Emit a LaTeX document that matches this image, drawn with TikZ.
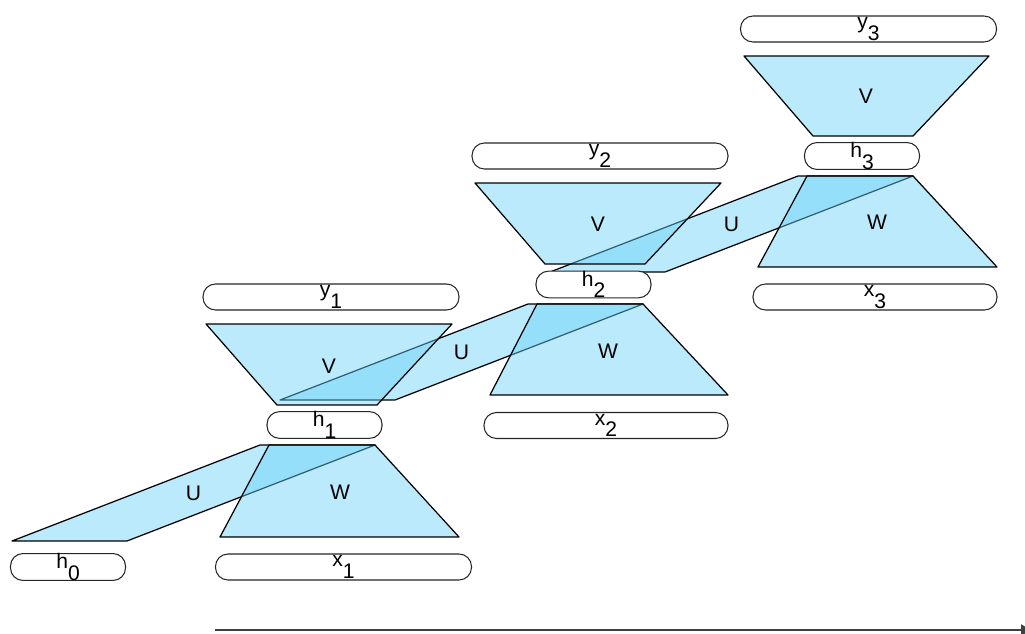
\documentclass[tikz,border=0pt]{standalone}
\usepackage{fontspec}
\setmainfont{Liberation Sans}
\usepackage{xcolor}
\usepackage{tikz}
\usetikzlibrary{arrows.meta}
\definecolor{layerblue}{RGB}{106,209,248}
\newcommand{\idx}[1]{\raisebox{-6.5pt}{#1}}

\begin{document}
\begin{tikzpicture}[x=0.2mm,y=-0.2mm,font=\fontsize{12}{14}\selectfont,
    vec/.style={draw=black!85,line width=0.6pt,rounded corners=2.5mm,minimum width=51.2mm,minimum height=5.2mm,inner sep=0pt,fill=white},
    hid/.style={vec,minimum width=23mm,minimum height=5mm},
    layer/.style={draw=black,line width=0.7pt,line join=round,fill=layerblue,fill opacity=0.46},
    arrow/.style={-{Triangle[length=2mm,width=2.2mm]},line width=1.1pt,draw=black!75}]
  \useasboundingbox (0,0) rectangle (1025,633);
  % recurrent weights U (drawn first, the layers lie over them)
  \draw[layer] (375,445) -- ++(-115,0) -- ++(-248,96) -- ++(115,0) -- cycle;
  \draw[layer] (643,304) -- ++(-115,0) -- ++(-248,96) -- ++(115,0) -- cycle;
  \draw[layer] (913,176) -- ++(-115,0) -- ++(-248,96) -- ++(115,0) -- cycle;
  \node (U1) at (193.5,493) {U};
  \node (U2) at (461.5,352) {U};
  \node (U3) at (731.5,224) {U};
  % input weights W
  \draw[layer] (220,537) -- (269,445) -- (375,445) -- (459,537) -- cycle;
  \draw[layer] (490,395) -- (537,304) -- (643,304) -- (728,395) -- cycle;
  \draw[layer] (758,267) -- (807,176) -- (913,176) -- (997,267) -- cycle;
  \node (W1) at (340,492) {W};
  \node (W2) at (608,351) {W};
  \node (W3) at (877,222) {W};
  % output weights V
  \draw[layer] (206,324) -- (452,324) -- (377,405) -- (277,405) -- cycle;
  \draw[layer] (475,183) -- (721,183) -- (645,264) -- (545,264) -- cycle;
  \draw[layer] (744,56) -- (989,56) -- (913,136) -- (813,136) -- cycle;
  \node (V1) at (329,366) {V};
  \node (V2) at (598,224) {V};
  \node (V3) at (866,96) {V};
  % states, inputs, outputs
  \node[hid] (h0) at (68,567) {h\idx{0}};
  \node[hid] (h1) at (324.5,425) {h\idx{1}};
  \node[hid] (h2) at (593.5,284.5) {h\idx{2}};
  \node[hid] (h3) at (862,156) {h\idx{3}};
  \node[vec] (x1) at (343.5,567) {x\idx{1}};
  \node[vec,minimum width=48.8mm] (x2) at (606,425.5) {x\idx{2}};
  \node[vec,minimum width=48.8mm] (x3) at (875,297) {x\idx{3}};
  \node[vec] (y1) at (331,297) {y\idx{1}};
  \node[vec] (y2) at (600,156) {y\idx{2}};
  \node[vec] (y3) at (868.5,29) {y\idx{3}};
  % time
  \coordinate (t0) at (215,630);
  \coordinate (t1) at (1031,630);
  \draw[arrow] (t0) -- (t1);
\end{tikzpicture}
\end{document}
